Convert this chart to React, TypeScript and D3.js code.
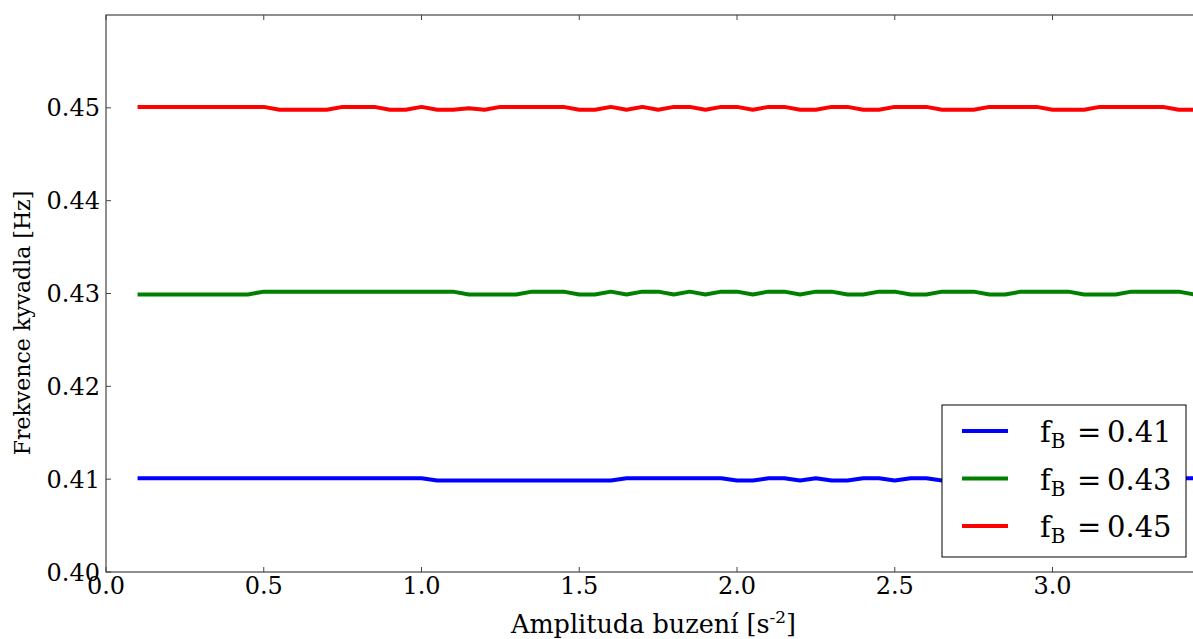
import React from 'react';
import * as d3 from 'd3';

const amplitudes = [
  0.1, 0.15, 0.2, 0.25, 0.3, 0.35, 0.4, 0.45, 0.5, 0.55,
  0.6, 0.65, 0.7, 0.75, 0.8, 0.85, 0.9, 0.95, 1.0, 1.05,
  1.1, 1.15, 1.2, 1.25, 1.3, 1.35, 1.4, 1.45, 1.5, 1.55,
  1.6, 1.65, 1.7, 1.75, 1.8, 1.85, 1.9, 1.95, 2.0, 2.05,
  2.1, 2.15, 2.2, 2.25, 2.3, 2.35, 2.4, 2.45, 2.5, 2.55,
  2.6, 2.65, 2.7, 2.75, 2.8, 2.85, 2.9, 2.95, 3.0, 3.05,
  3.1, 3.15, 3.2, 3.25, 3.3, 3.35, 3.4, 3.45,
];

const freq041 = [
  0.4101, 0.4101, 0.4101, 0.4101, 0.4101, 0.4101, 0.4101, 0.4101, 0.4101, 0.4101,
  0.4101, 0.4101, 0.4101, 0.4101, 0.4101, 0.4101, 0.4101, 0.4101, 0.4101, 0.40985,
  0.40985, 0.40985, 0.40985, 0.40985, 0.40985, 0.40985, 0.40985, 0.40985, 0.40985, 0.40985,
  0.40985, 0.4101, 0.4101, 0.4101, 0.4101, 0.4101, 0.4101, 0.4101, 0.40985, 0.40985,
  0.4101, 0.4101, 0.40985, 0.4101, 0.40985, 0.40985, 0.4101, 0.4101, 0.40985, 0.4101,
  0.4101, 0.40985, 0.4101, 0.4101, 0.40985, 0.40985, 0.4101, 0.4101, 0.40985, 0.4101,
  0.4101, 0.40985, 0.40985, 0.4101, 0.4101, 0.40985, 0.4101, 0.4101,
];

const freq043 = [
  0.4299, 0.4299, 0.4299, 0.4299, 0.4299, 0.4299, 0.4299, 0.4299, 0.4302, 0.4302,
  0.4302, 0.4302, 0.4302, 0.4302, 0.4302, 0.4302, 0.4302, 0.4302, 0.4302, 0.4302,
  0.4302, 0.4299, 0.4299, 0.4299, 0.4299, 0.4302, 0.4302, 0.4302, 0.4299, 0.4299,
  0.4302, 0.4299, 0.4302, 0.4302, 0.4299, 0.4302, 0.4299, 0.4302, 0.4302, 0.4299,
  0.4302, 0.4302, 0.4299, 0.4302, 0.4302, 0.4299, 0.4299, 0.4302, 0.4302, 0.4299,
  0.4299, 0.4302, 0.4302, 0.4302, 0.4299, 0.4299, 0.4302, 0.4302, 0.4302, 0.4302,
  0.4299, 0.4299, 0.4299, 0.4302, 0.4302, 0.4302, 0.4302, 0.4299,
];

const freq045 = [
  0.4501, 0.4501, 0.4501, 0.4501, 0.4501, 0.4501, 0.4501, 0.4501, 0.4501, 0.4498,
  0.4498, 0.4498, 0.4498, 0.4501, 0.4501, 0.4501, 0.4498, 0.4498, 0.4501, 0.4498,
  0.4498, 0.44995, 0.4498, 0.4501, 0.4501, 0.4501, 0.4501, 0.4501, 0.4498, 0.4498,
  0.4501, 0.4498, 0.4501, 0.4498, 0.4501, 0.4501, 0.4498, 0.4501, 0.4501, 0.4498,
  0.4501, 0.4501, 0.4498, 0.4498, 0.4501, 0.4501, 0.4498, 0.4498, 0.4501, 0.4501,
  0.4501, 0.4498, 0.4498, 0.4498, 0.4501, 0.4501, 0.4501, 0.4501, 0.4498, 0.4498,
  0.4498, 0.4501, 0.4501, 0.4501, 0.4501, 0.4501, 0.4498, 0.4498,
];

const seriesNames = ['0.41', '0.43', '0.45'];
const seriesColors = ['#0000ff', '#008000', '#ff0000'];
const seriesValues = [freq041, freq043, freq045];

const xTicks = [0, 0.5, 1.0, 1.5, 2.0, 2.5, 3.0];
const yTicks = [0.4, 0.41, 0.42, 0.43, 0.44, 0.45];

const W = 1193;
const H = 639;
const left = 106;
const top = 15;
const bottom = 572;
const right = 1194.5;
const FONT = "'DejaVu Serif', serif";

export default function App() {
  const x = d3.scaleLinear().domain([0, 3.45]).range([left, right]);
  const y = d3.scaleLinear().domain([0.4, 0.46]).range([bottom, top]);
  const line = d3
    .line<number>()
    .x((_, i) => x(amplitudes[i]))
    .y((d) => y(d));

  const legX = 942;
  const legY = 405;
  const legW = 244;
  const legH = 152;

  return (
    <svg
      width={W}
      height={H}
      style={{ position: 'absolute', left: 0, top: 0, background: '#fff' }}
    >
      <defs>
        <clipPath id="plotclip">
          <rect x={left} y={top} width={right - left} height={bottom - top} />
        </clipPath>
      </defs>
      <rect x={0} y={0} width={W} height={H} fill="#fff" />
      <g clipPath="url(#plotclip)">
        {seriesValues.map((vals, k) => (
          <path
            key={k}
            d={line(vals) || ''}
            fill="none"
            stroke={seriesColors[k]}
            strokeWidth={4}
            strokeLinejoin="round"
          />
        ))}
      </g>
      <rect
        x={left}
        y={top}
        width={right - left}
        height={bottom - top}
        fill="none"
        stroke="#444"
        strokeWidth={1.2}
      />
      {xTicks.map((t) => (
        <g key={'x' + t}>
          <line x1={x(t)} x2={x(t)} y1={bottom} y2={bottom - 5} stroke="#444" strokeWidth={1} />
          <line x1={x(t)} x2={x(t)} y1={top} y2={top + 5} stroke="#444" strokeWidth={1} />
          <text
            x={x(t)}
            y={bottom + 22}
            textAnchor="middle"
            fontFamily={FONT}
            fontSize={24}
            fill="#000"
          >
            {t.toFixed(1)}
          </text>
        </g>
      ))}
      {yTicks.map((t) => (
        <g key={'y' + t}>
          <line x1={left} x2={left + 5} y1={y(t)} y2={y(t)} stroke="#444" strokeWidth={1} />
          <text
            x={left - 6}
            y={y(t) + 8.5}
            textAnchor="end"
            fontFamily={FONT}
            fontSize={24}
            fill="#000"
          >
            {t.toFixed(2)}
          </text>
        </g>
      ))}
      <text
        x={(left + 1193) / 2 + 4}
        y={633}
        textAnchor="middle"
        fontFamily={FONT}
        fontSize={25.5}
        fill="#000"
      >
        Amplituda buzení [s
        <tspan fontSize={17} dy={-10}>-2</tspan>
        <tspan dy={10}>]</tspan>
      </text>
      <text
        transform={`translate(30, 323) rotate(-90)`}
        textAnchor="middle"
        fontFamily={FONT}
        fontSize={22}
        fill="#000"
      >
        Frekvence kyvadla [Hz]
      </text>
      <rect x={legX} y={legY} width={legW} height={legH} fill="#fff" stroke="#000" strokeWidth={1} />
      {seriesNames.map((name, k) => {
        const cy = 431 + k * 47.5;
        return (
          <g key={name}>
            <line x1={962} x2={1008} y1={cy} y2={cy} stroke={seriesColors[k]} strokeWidth={4} />
            <text x={1040} y={cy + 11} fontFamily={FONT} fontSize={29} fill="#000">
              f
              <tspan fontSize={20} dy={6}>B</tspan>
              <tspan x={1077} dy={-6}>=</tspan>
              <tspan x={1107}>{name}</tspan>
            </text>
          </g>
        );
      })}
    </svg>
  );
}
